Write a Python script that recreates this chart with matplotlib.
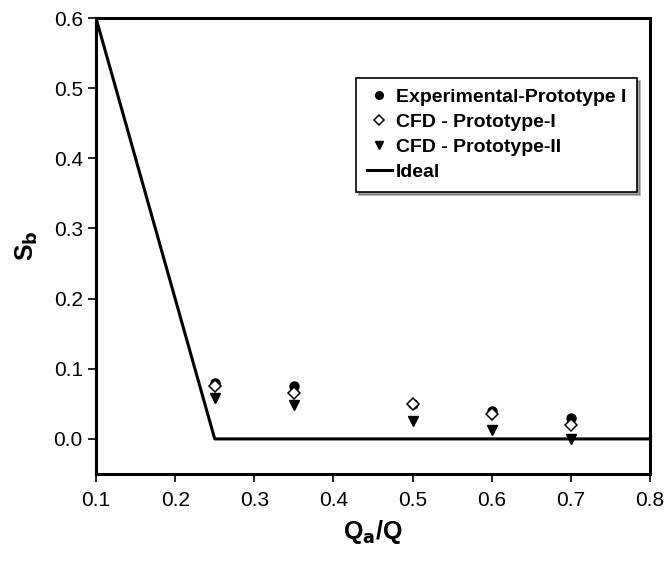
import matplotlib
matplotlib.use("Agg")
from matplotlib import pyplot as plt

plt.rcParams['font.family'] = ['Liberation Sans', 'DejaVu Sans']

qa = [0.25, 0.35, 0.5, 0.6, 0.7]
exp_p1 = [0.080, 0.075, 0.050, 0.040, 0.030]
cfd_p1 = [0.075, 0.065, 0.050, 0.035, 0.020]
cfd_p2 = [0.058, 0.048, 0.025, 0.013, 0.000]
ideal_x = [0.1, 0.25, 0.8]
ideal_y = [0.6, 0.0, 0.0]

fig = plt.figure(figsize=(6.68, 5.63), dpi=100)
ax = fig.add_axes([96/668, 1 - 474/563, 554/668, 456/563])

ax.plot(ideal_x, ideal_y, color="black", lw=2.2, label="Ideal", zorder=2)
ax.plot(qa, exp_p1, "o", color="black", ms=6.5, ls="none", label="Experimental-Prototype I", zorder=3)
ax.plot(qa, cfd_p1, "D", mfc="white", mec="black", mew=1.1, ms=6, ls="none", label="CFD - Prototype-I", zorder=4)
ax.plot(qa, cfd_p2, "v", color="black", ms=7.5, ls="none", label="CFD - Prototype-II", zorder=3)

ax.set_xlim(0.1, 0.8)
ax.set_ylim(-0.05, 0.6)
ax.set_xticks([0.1, 0.2, 0.3, 0.4, 0.5, 0.6, 0.7, 0.8])
ax.set_yticks([0.0, 0.1, 0.2, 0.3, 0.4, 0.5, 0.6])
ax.tick_params(direction="out", length=6, width=1.2, labelsize=15, top=False, right=False)
ax.tick_params(axis="x", pad=6)
for s in ax.spines.values():
    s.set_linewidth(2.2)

ax.set_xlabel("Q$_\\mathbf{a}$/Q", fontsize=18, fontweight="bold", labelpad=6)
ax.set_ylabel("S$_\\mathbf{b}$", fontsize=18, fontweight="bold", labelpad=10)

h, l = ax.get_legend_handles_labels()
order = [1, 2, 3, 0]
leg = ax.legend([h[i] for i in order], [l[i] for i in order], loc="upper right",
                bbox_to_anchor=(0.9765, 0.869), borderaxespad=0, fancybox=False, shadow=True,
                prop={"weight": "bold", "size": 14}, handlelength=1.3, markerscale=0.85,
                handletextpad=0.2, borderpad=0.55, labelspacing=0.38)
leg.get_frame().set_edgecolor("black")
leg.get_frame().set_linewidth(1.2)

fig.savefig("out.png", dpi=100)
